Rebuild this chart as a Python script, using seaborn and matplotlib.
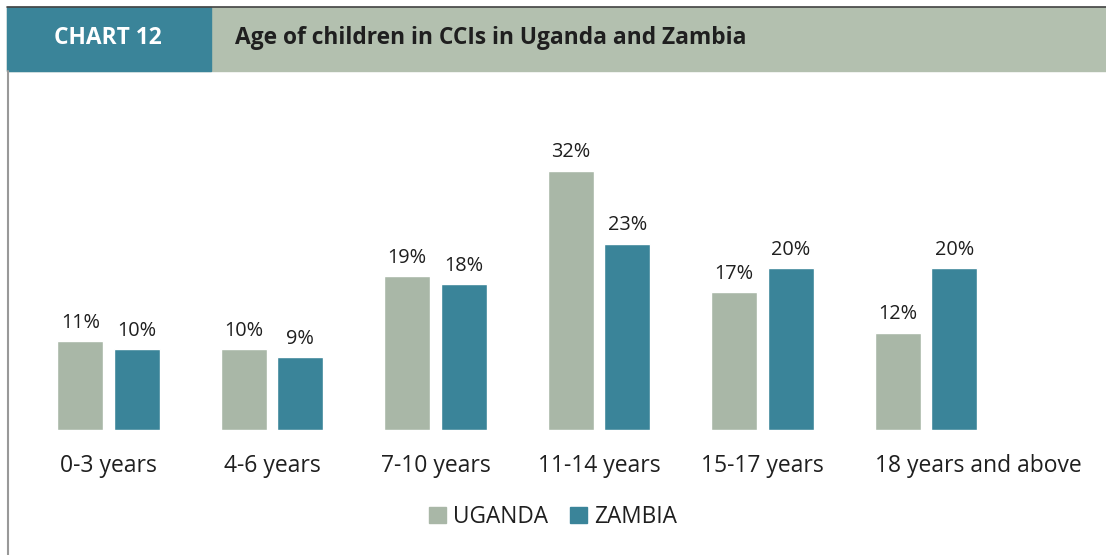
import matplotlib
matplotlib.use("Agg")
import matplotlib.pyplot as plt
import matplotlib.transforms as mtransforms
from matplotlib.patches import Rectangle
import seaborn as sns
import pandas as pd

# ── data ─────────────────────────────────────────────────────────────────────
age_groups = ['0-3 years', '4-6 years', '7-10 years', '11-14 years',
              '15-17 years', '18 years and above']
uganda = [11, 10, 19, 32, 17, 12]
zambia = [10, 9, 18, 23, 20, 20]
countries = ['UGANDA', 'ZAMBIA']

GREY = '#A9B7A7'
TEAL = '#3A8499'
BAND = '#B3C0AF'
INK = '#1f1f1f'

df = pd.DataFrame({
    'age': age_groups * 2,
    'pct': uganda + zambia,
    'country': [countries[0]] * len(age_groups) + [countries[1]] * len(age_groups),
})

sns.set_theme(style='white')
plt.rcParams['font.family'] = ['Open Sans', 'DejaVu Sans']

W, H = 1106, 555
fig = plt.figure(figsize=(W / 100, H / 100), dpi=100)
fig.patch.set_facecolor('white')

# ── header ───────────────────────────────────────────────────────────────────
def fx(px): return px / W
def fy(py): return 1 - py / H

fig.patches.append(Rectangle((fx(7), fy(71)), fx(W - 7), fy(7) - fy(71),
                             transform=fig.transFigure, color=BAND, zorder=0))
fig.patches.append(Rectangle((fx(7), fy(71)), fx(211 - 7), fy(7) - fy(71),
                             transform=fig.transFigure, color=TEAL, zorder=1))
fig.add_artist(plt.Line2D([fx(7), 1], [fy(6.5), fy(6.5)], color='#444444', lw=1.2))
fig.add_artist(plt.Line2D([fx(7.5), fx(7.5)], [0, fy(71)], color='#999999', lw=1.5))
fig.text(fx(108), fy(38), 'CHART 12', color='white', fontsize=16.4,
         fontweight='bold', ha='center', va='center')
fig.text(fx(235), fy(38), 'Age of children in CCIs in Uganda and Zambia',
         color=INK, fontsize=16.4, fontweight='bold', ha='left', va='center')

# ── bars ─────────────────────────────────────────────────────────────────────
ax = fig.add_axes([0, fy(430), 1, fy(80) - fy(430)])
sns.barplot(data=df, x='age', y='pct', hue='country', order=age_groups,
            hue_order=countries, palette=[GREY, TEAL], width=0.69, gap=0.18,
            saturation=1, ax=ax, legend=True)

step = 163.5
ax.set_xlim(-108.5 / step, (W - 108.5) / step)
ax.set_ylim(0, (430 - 80) / 8.1)
for s in ax.spines.values():
    s.set_visible(False)
ax.set_yticks([])
ax.set_xlabel('')
ax.set_ylabel('')
ax.set_facecolor('none')
ax.tick_params(axis='x', length=0, pad=17, labelsize=16.5, labelcolor=INK)

labels = ax.get_xticklabels()
last = labels[-1]
last.set_ha('left')
last.set_transform(last.get_transform() +
                   mtransforms.ScaledTranslation(-51 / 100, 0, fig.dpi_scale_trans))

for cont in ax.containers:
    ax.bar_label(cont, labels=[f'{v:.0f}%' for v in cont.datavalues],
                 padding=6, fontsize=14.3, color=INK)

# ── legend ───────────────────────────────────────────────────────────────────
ax.get_legend().remove()
handles = [Rectangle((0, 0), 1, 1, color=c) for c in (GREY, TEAL)]
fig.legend(handles, countries, loc='center', bbox_to_anchor=(fx(553), fy(517)),
           ncol=2, frameon=False, fontsize=16.3, handlelength=0.75, handleheight=0.75,
           handletextpad=0.3, columnspacing=1.0, labelcolor=INK)

fig.savefig('out.png', dpi=100)
